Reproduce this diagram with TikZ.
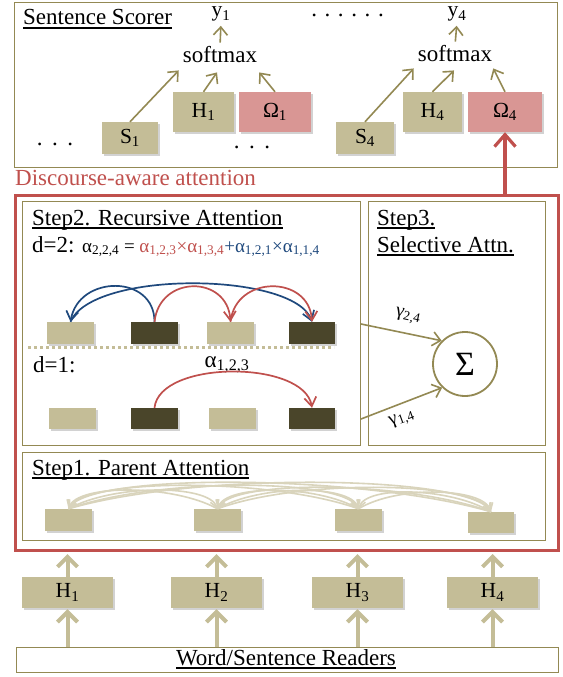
\documentclass[tikz,border=0pt]{standalone}
\usepackage{fontspec}
\setmainfont{Liberation Serif}
\usetikzlibrary{arrows.meta,shadows}
\definecolor{cTan}{HTML}{C4BD97}
\definecolor{cDark}{HTML}{4A452A}
\definecolor{cPink}{HTML}{D99694}
\definecolor{cRed}{HTML}{C0504D}
\definecolor{cBlue}{HTML}{1F497D}
\definecolor{cOlive}{HTML}{938953}
\definecolor{cLight}{HTML}{D9D4BC}
\newsavebox\ulbox
\newcommand\myul[1]{\sbox\ulbox{#1}\rlap{\rule[-4pt]{\wd\ulbox}{1.8pt}}\usebox\ulbox}
\newcommand\bigf{\fontsize{23}{27}\selectfont}
\newcommand\midf{\fontsize{21.5}{25}\selectfont}
\newcommand\smf{\fontsize{19}{22}\selectfont}
\tikzset{
  shad/.style={drop shadow={shadow xshift=1.5pt,shadow yshift=-1.5pt,opacity=0.35}},
  tanbox/.style={fill=cTan,inner sep=0,shad,font=\midf},
  darkbox/.style={fill=cDark,inner sep=0,shad},
  pinkbx/.style={fill=cPink,inner sep=0,shad,font=\midf},
  frame/.style={draw=cOlive,line width=1.4pt,inner sep=0},
  txt/.style={inner sep=0,font=\bigf},
  oarrow/.style={draw=cOlive,line width=1.6pt,-{Straight Barb[length=8pt,width=14pt]}},
  farrow/.style={draw=cTan,line width=4pt,-{Straight Barb[length=10pt,width=20pt]}},
  rarrow/.style={draw=cRed,line width=3.2pt,-{Straight Barb[length=12pt,width=21pt]}},
  redarc/.style={draw=cRed,line width=1.7pt,-{Straight Barb[length=9pt,width=12pt]}},
  bluearc/.style={draw=cBlue,line width=1.7pt,-{Straight Barb[length=9pt,width=12pt]}},
  lightarc/.style={draw=cLight,line width=1.6pt,-{Straight Barb[length=7pt,width=9pt]}},
}
\begin{document}
\begin{tikzpicture}[x=1pt,y=-1pt]
\fill[white] (0,0) rectangle (562,677);
\useasboundingbox (0,0) rectangle (562,677);

% ---------------- Sentence scorer ----------------
\node[frame,minimum width=543,minimum height=165,anchor=north west] (scorer) at (14,2) {};
\node[txt,anchor=base west] (scorerT) at (23,25) {\myul{Sentence Scorer}};
\node[txt,font=\midf,anchor=base] (y1) at (221,17) {y\textsubscript{1}};
\node[txt,font=\midf,anchor=base] (y4) at (457,17) {y\textsubscript{4}};
\node[txt,anchor=base] (topdots) at (347.5,17) {.\hspace{7.6pt}.\hspace{7.6pt}.\hspace{7.6pt}.\hspace{7.6pt}.\hspace{7.6pt}.};
\node[txt,anchor=base] (sm1) at (220,63) {softmax};
\node[txt,anchor=base] (sm4) at (455,62) {softmax};
\node[tanbox,minimum width=61,minimum height=40] (H1t) at (203.5,112) {H\textsubscript{1}};
\node[pinkbx,minimum width=72,minimum height=40] (Om1) at (275,112) {Ω\textsubscript{1}};
\node[tanbox,minimum width=56,minimum height=32] (S1) at (130,138) {S\textsubscript{1}};
\node[tanbox,minimum width=59,minimum height=40] (H4t) at (432.5,112) {H\textsubscript{4}};
\node[pinkbx,minimum width=74,minimum height=40] (Om4) at (505,112) {Ω\textsubscript{4}};
\node[tanbox,minimum width=58,minimum height=32] (S4) at (365,138) {S\textsubscript{4}};
\node[txt,anchor=base] (dots1) at (55,145) {.\hspace{9.5pt}.\hspace{9.5pt}.};
\node[txt,anchor=base] (dots2) at (252,148) {.\hspace{9.5pt}.\hspace{9.5pt}.};
\draw[oarrow,shorten <=4pt,shorten >=4pt] (sm1.north) -- (y1.south);
\draw[oarrow,shorten <=4pt,shorten >=4pt] (sm4.north) -- (y4.south);
\draw[oarrow] (S1.north) -- ([shift={(-4,7)}]sm1.south west);
\draw[oarrow] (H1t.north) -- ([shift={(-3,9)}]sm1.south);
\draw[oarrow] (Om1.north) -- ([shift={(2,9)}]sm1.south east);
\draw[oarrow] (S4.north) -- ([shift={(-4,6)}]sm4.south west);
\draw[oarrow] (H4t.north) -- ([shift={(-1,8)}]sm4.south);
\draw[oarrow] (Om4.north) -- ([shift={(1,6)}]sm4.south east);

% ---------------- Discourse-aware attention ----------------
\node[txt,text=cRed,anchor=base west] (dalabel) at (15,185) {Discourse-aware attention};
\node[draw=cRed,line width=3pt,inner sep=0,minimum width=543,minimum height=355.5,anchor=north west] (dattn) at (13.5,193.5) {};
\draw[rarrow] (Om4.south |- dattn.north) -- (Om4.south);

% Step 2
\node[frame,minimum width=338,minimum height=244,anchor=north west] (step2) at (22,201) {};
\node[txt,anchor=base west] (step2T) at (32,225) {\myul{Step2. Recursive Attention}};
\node[txt,anchor=base west] (formula) at (32,252) {d=2: {\smf α\textsubscript{2,2,4} = \textcolor{cRed}{α\textsubscript{1,2,3}×α\textsubscript{1,3,4}}\textcolor{cBlue}{+α\textsubscript{1,2,1}×α\textsubscript{1,1,4}}}};
\node[tanbox,minimum width=47,minimum height=22] (b21) at (70.5,333) {};
\node[darkbox,minimum width=47,minimum height=22] (b22) at (154.5,333) {};
\node[tanbox,minimum width=47,minimum height=22] (b23) at (230.5,333) {};
\node[darkbox,minimum width=46,minimum height=22] (b24) at (312,333) {};
\coordinate (dotA) at (28,347);
\coordinate (dotB) at (334,347);
\draw[cTan,line width=3pt,dash pattern=on 3pt off 3pt] (dotA) -- (dotB);
\node[txt,anchor=base west] (d1T) at (33,372) {d=1:};
\node[txt,anchor=base] (a123) at (227,367) {α\textsubscript{1,2,3}};
\node[tanbox,minimum width=47,minimum height=21] (b11) at (72.5,418.5) {};
\node[darkbox,minimum width=47,minimum height=21] (b12) at (154.5,418.5) {};
\node[tanbox,minimum width=47,minimum height=21] (b13) at (232.5,418.5) {};
\node[darkbox,minimum width=46,minimum height=21] (b14) at (312,418.5) {};
\draw[bluearc] (b21.north) .. controls +(22,-52) and +(-18,-50) .. (b24.north);
\draw[bluearc] (b22.north) .. controls +(0,-48) and +(8,-47) .. (b21.north);
\draw[redarc] (b22.north) .. controls +(5,-47) and +(-3,-47) .. (b23.north);
\draw[redarc] (b23.north) .. controls +(5,-47) and +(-3,-47) .. (b24.north);
\draw[redarc] (b12.north) .. controls +(5,-48) and +(-8,-48) .. (b14.north);

% Step 3
\node[frame,minimum width=177,minimum height=244,anchor=north west] (step3) at (368,201) {};
\node[txt,anchor=base west] (step3T) at (377,225) {\myul{Step3.}};
\node[txt,anchor=base west] (step3S) at (377,252) {\myul{Selective Attn.}};
\node[circle,draw=cOlive,line width=1.8pt,minimum size=64,inner sep=0,font=\fontsize{34}{34}\selectfont] (sigma) at (465,364) {Σ};
\coordinate (g2) at (361,324);
\coordinate (g1) at (361,419);
\draw[oarrow] (g2) -- (sigma.135);
\draw[oarrow] (g1) -- (sigma.226);
\node[txt,font=\smf,rotate=-12] (g24) at (408,316) {γ\textsubscript{2,4}};
\node[txt,font=\smf,rotate=20] (g14) at (402,419) {γ\textsubscript{1,4}};

% Step 1
\node[frame,minimum width=523,minimum height=88,anchor=north west] (step1) at (22,452) {};
\node[txt,anchor=base west] (step1T) at (32,475) {\myul{Step1. Parent Attention}};
\node[tanbox,minimum width=47,minimum height=22] (p1) at (68.5,520) {};
\node[tanbox,minimum width=47,minimum height=22] (p2) at (217.5,520) {};
\node[tanbox,minimum width=47,minimum height=22] (p3) at (358.5,520) {};
\node[tanbox,minimum width=46,minimum height=21] (p4) at (491,522.5) {};
\foreach \i/\xi in {1/68.5,2/217.5,3/358.5,4/491}{
  \foreach \j/\xj in {1/68.5,2/217.5,3/358.5,4/491}{
    \ifnum\i=\j\else
      \pgfmathsetmacro\dd{abs(\xj-\xi)}
      \pgfmathsetmacro\ss{(\xj>\xi)?1:-1}
      \pgfmathsetmacro\hh{18+0.045*\dd}
      \pgfmathsetmacro\ca{\ss*0.3*\dd}
      \pgfmathsetmacro\cb{-\ss*0.06*\dd}
      \draw[lightarc] (p\i.north) .. controls +(\ca,-\hh) and +(\cb,-\hh) .. (p\j.north);
    \fi
  }
}

% ---------------- Readers ----------------
\node[tanbox,minimum width=91,minimum height=31] (H1) at (67.5,592.5) {H\textsubscript{1}};
\node[tanbox,minimum width=91,minimum height=31] (H2) at (216.5,592.5) {H\textsubscript{2}};
\node[tanbox,minimum width=91,minimum height=31] (H3) at (357.5,592.5) {H\textsubscript{3}};
\node[tanbox,minimum width=91,minimum height=31] (H4) at (492.5,592.5) {H\textsubscript{4}};
\node[frame,minimum width=542,minimum height=25,anchor=north west] (words) at (16,647) {};
\node[txt,anchor=base] (wordsT) at (286,665) {\myul{Word/Sentence Readers}};
\foreach \k in {1,2,3,4}{
  \draw[farrow,shorten >=2pt] (H\k.north) -- (H\k.north |- dattn.south);
  \draw[farrow,shorten >=1pt] (H\k.south |- words.north) -- (H\k.south);
}
\end{tikzpicture}
\end{document}
